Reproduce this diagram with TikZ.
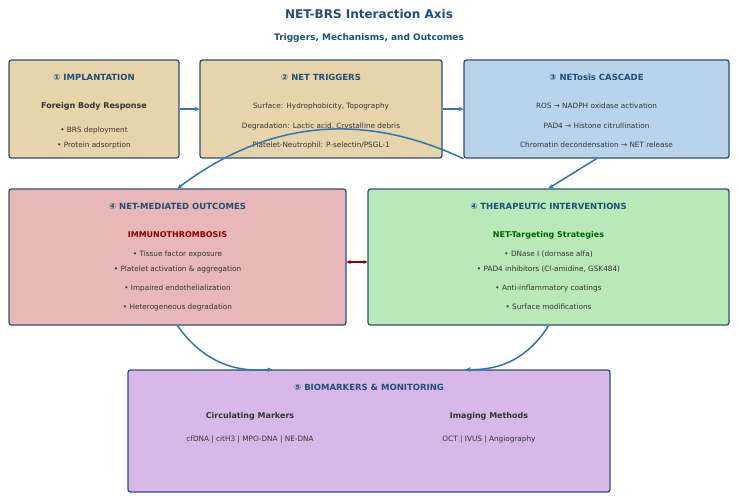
\documentclass[tikz,border=0pt]{standalone}
\usepackage{fontspec}
\setmainfont{DejaVu Sans}
\usetikzlibrary{positioning,calc,arrows.meta}
\definecolor{netEdge}{HTML}{2C4F7C}
\definecolor{netTitle}{HTML}{1F4E79}
\definecolor{netBody}{HTML}{333333}
\definecolor{netArrow}{HTML}{2E75B6}
\definecolor{netRed}{HTML}{8B0000}
\definecolor{netGreen}{HTML}{006400}
\definecolor{fillTan}{HTML}{E8D4AA}
\definecolor{fillBlue}{HTML}{B9D4EA}
\definecolor{fillPink}{HTML}{E8B8B8}
\definecolor{fillGreen}{HTML}{B9E8B9}
\definecolor{fillLilac}{HTML}{D8B8E8}
\tikzset{
  stage box/.style={
    draw=netEdge, line width=1.3pt, rounded corners=2.5pt,
    inner sep=0pt,
  },
  box title/.style={font=\fontsize{8.5}{10}\selectfont\bfseries, text=netTitle},
  box sub/.style={font=\fontsize{8}{10}\selectfont\bfseries, text=netBody},
  box line/.style={font=\fontsize{7.3}{9}\selectfont, text=netBody},
  flow arrow/.style={
    -{Stealth[length=5pt, width=4.5pt]},
    draw=netArrow, line width=1.5pt,
  },
}

\begin{document}
\begin{tikzpicture}[x=1pt, y=-1pt]
\useasboundingbox (0,0) rectangle (739,501);

% Header
\node[font=\fontsize{12}{14}\selectfont\bfseries, text=netTitle] (title) at (369,14) {NET-BRS Interaction Axis};
\node[font=\fontsize{9}{11}\selectfont\bfseries, text=netTitle] (subtitle) at (369,38) {Triggers, Mechanisms, and Outcomes};

% Row 1 boxes
\node[stage box, fill=fillTan, minimum width=170pt, minimum height=98pt] (impl) at (94,109) {};
\node[stage box, fill=fillTan, minimum width=242pt, minimum height=98pt] (trig) at (321,109) {};
\node[stage box, fill=fillBlue, minimum width=265pt, minimum height=98pt] (casc) at (596.5,109) {};

% Row 2 boxes
\node[stage box, fill=fillPink, minimum width=337pt, minimum height=136pt] (outc) at (177.5,257) {};
\node[stage box, fill=fillGreen, minimum width=361pt, minimum height=136pt] (ther) at (548.5,257) {};

% Row 3 box
\node[stage box, fill=fillLilac, minimum width=482pt, minimum height=122pt] (biom) at (369,431) {};

% Box 1 text
\node[box title] (implT) at (94,77) {① IMPLANTATION};
\node[box sub] (implS) at (94,106) {Foreign Body Response};
\node[box line] (implA) at (94,130) {• BRS deployment};
\node[box line] (implB) at (94,145) {• Protein adsorption};

% Box 2 text
\node[box title] (trigT) at (321,77) {② NET TRIGGERS};
\node[box line] (trigA) at (321,106) {Surface: Hydrophobicity, Topography};
\node[box line] (trigB) at (321,126) {Degradation: Lactic acid, Crystalline debris};
\node[box line] (trigC) at (321,145) {Platelet-Neutrophil: P-selectin/PSGL-1};

% Box 3 text
\node[box title] (cascT) at (596.5,77) {③ NETosis CASCADE};
\node[box line] (cascA) at (596.5,106) {ROS → NADPH oxidase activation};
\node[box line] (cascB) at (596.5,126) {PAD4 → Histone citrullination};
\node[box line] (cascC) at (596.5,145) {Chromatin decondensation → NET release};

% Box 4 text
\node[box title] (outcT) at (177.5,206) {④ NET-MEDIATED OUTCOMES};
\node[box sub, text=netRed] (outcS) at (177.5,235) {IMMUNOTHROMBOSIS};
\node[box line] (outcA) at (177.5,254) {• Tissue factor exposure};
\node[box line] (outcB) at (177.5,269) {• Platelet activation \& aggregation};
\node[box line] (outcC) at (177.5,288) {• Impaired endothelialization};
\node[box line] (outcD) at (177.5,307) {• Heterogeneous degradation};

% Box 5 text
\node[box title] (therT) at (548.5,206) {④ THERAPEUTIC INTERVENTIONS};
\node[box sub, text=netGreen] (therS) at (548.5,235) {NET-Targeting Strategies};
\node[box line] (therA) at (548.5,254) {• DNase I (dornase alfa)};
\node[box line] (therB) at (548.5,269) {• PAD4 inhibitors (Cl-amidine, GSK484)};
\node[box line] (therC) at (548.5,288) {• Anti-inflammatory coatings};
\node[box line] (therD) at (548.5,307) {• Surface modifications};

% Box 6 text
\node[box title] (biomT) at (369,387) {⑤ BIOMARKERS \& MONITORING};
\node[box sub] (biomL) at (250,416) {Circulating Markers};
\node[box line] (biomLa) at (250,440) {cfDNA | citH3 | MPO-DNA | NE-DNA};
\node[box sub] (biomR) at (489,416) {Imaging Methods};
\node[box line] (biomRa) at (489,440) {OCT | IVUS | Angiography};

% Connectors
\coordinate (biomIn1) at ($(biom.north west)!0.3!(biom.north east)$);
\coordinate (biomIn2) at ($(biom.north west)!0.7!(biom.north east)$);
\draw[flow arrow] (impl.east) -- (trig.west);
\draw[flow arrow] (trig.east) -- (casc.west);
\draw[flow arrow] (casc.south) -- (ther.north);
\draw[flow arrow] (casc.south west) to[bend right=31] (outc.north);
\draw[flow arrow] (outc.south) to[bend right=30] (biomIn1);
\draw[flow arrow] (ther.south) to[bend left=30] (biomIn2);
\draw[{Stealth[length=4pt, width=4pt]}-{Stealth[length=4pt, width=4pt]}, draw=netRed, line width=1.5pt]
  ([yshift=-5pt]outc.east) -- ([yshift=-5pt]ther.west);

\end{tikzpicture}
\end{document}
